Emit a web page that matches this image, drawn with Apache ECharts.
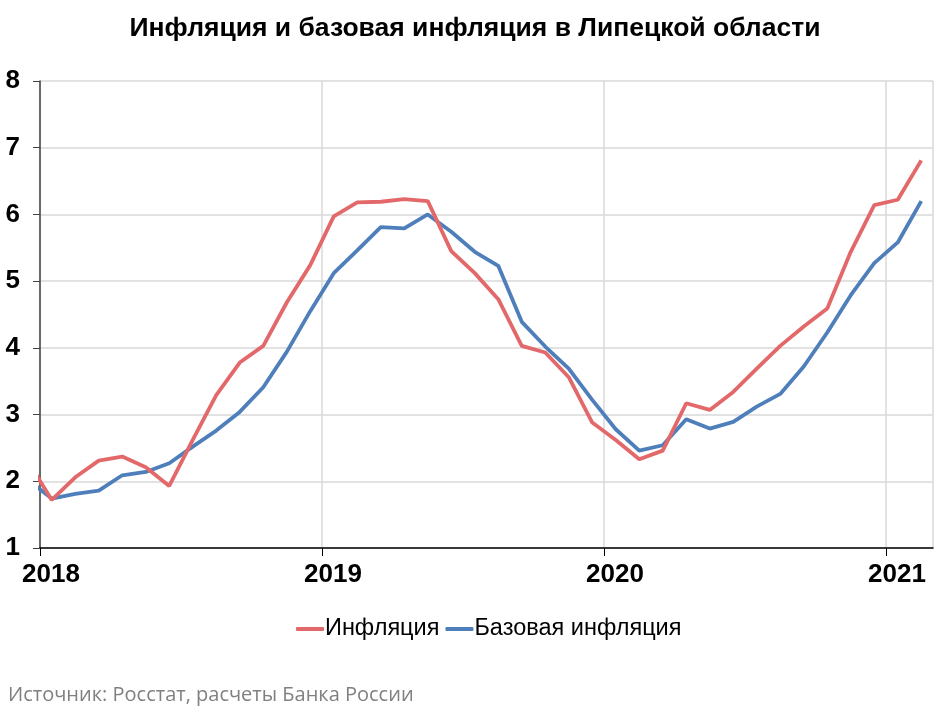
<!DOCTYPE html>
<html>
<head>
<meta charset="utf-8">
<title>Инфляция и базовая инфляция в Липецкой области</title>
<script src="https://cdn.jsdelivr.net/npm/echarts@6/dist/echarts.min.js"></script>
<style>
  html, body { margin: 0; padding: 0; background: #fff; }
  #main { width: 950px; height: 712px; }
</style>
</head>
<body>
<div id="main"></div>
<script>
// месяцы: декабрь 2017 (обрезается у оси) .. февраль 2021
var months = [
  '2017-12',
  '2018-01', '2018-02', '2018-03', '2018-04', '2018-05', '2018-06',
  '2018-07', '2018-08', '2018-09', '2018-10', '2018-11', '2018-12',
  '2019-01', '2019-02', '2019-03', '2019-04', '2019-05', '2019-06',
  '2019-07', '2019-08', '2019-09', '2019-10', '2019-11', '2019-12',
  '2020-01', '2020-02', '2020-03', '2020-04', '2020-05', '2020-06',
  '2020-07', '2020-08', '2020-09', '2020-10', '2020-11', '2020-12',
  '2021-01', '2021-02'
];

var yearLabels = ['2018', '2019', '2020', '2021'];

// Инфляция, % г/г
var inflation = [
  2.29,
  1.72, 2.06, 2.31, 2.37, 2.21, 1.93, 2.62, 3.29, 3.78, 4.03, 4.68, 5.24,
  5.97, 6.18, 6.19, 6.23, 6.20, 5.45, 5.12, 4.73, 4.03, 3.93, 3.56, 2.88,
  2.62, 2.33, 2.46, 3.17, 3.07, 3.34, 3.69, 4.03, 4.32, 4.59, 5.44, 6.14,
  6.22, 6.81
];

// Базовая инфляция, % г/г
var coreInflation = [
  2.02,
  1.74, 1.81, 1.86, 2.09, 2.14, 2.27, 2.52, 2.76, 3.04, 3.41, 3.94, 4.55,
  5.12, 5.46, 5.81, 5.79, 6.00, 5.74, 5.44, 5.23, 4.39, 4.02, 3.69, 3.22,
  2.78, 2.46, 2.54, 2.93, 2.79, 2.89, 3.12, 3.31, 3.72, 4.23, 4.79, 5.27,
  5.58, 6.20
];

// месяц -> позиция на оси (январь 2018 = 0, точка в середине месяца)
function monthPos(m) {
  var p = m.split('-');
  return (parseInt(p[0], 10) - 2018) * 12 + parseInt(p[1], 10) - 1 + 0.5;
}

function toPoints(values) {
  var pts = [];
  for (var i = 0; i < months.length; i++) {
    pts.push([monthPos(months[i]), values[i]]);
  }
  return pts;
}

var chart = echarts.init(document.getElementById('main'));

var option = {
  backgroundColor: '#ffffff',
  animation: false,
  title: {
    text: 'Инфляция и базовая инфляция в Липецкой области',
    left: 'center',
    top: 10,
    textStyle: {
      fontFamily: 'Liberation Sans',
      fontWeight: 'bold',
      fontSize: 26.5,
      color: '#000'
    }
  },
  legend: {
    bottom: 66,
    left: 291,
    itemGap: 6,
    itemWidth: 28,
    itemHeight: 4,
    icon: 'roundRect',
    textStyle: {
      fontFamily: 'Liberation Sans',
      fontSize: 23.5,
      color: '#000',
      padding: [0, 0, 0, -4]
    },
    data: ['Инфляция', 'Базовая инфляция']
  },
  grid: {
    left: 40,
    right: 17,
    top: 81,
    bottom: 164,
    containLabel: false
  },
  xAxis: {
    type: 'value',
    min: 0,
    max: 38,
    interval: 12,
    axisLine: { show: true, lineStyle: { color: '#000', width: 1.5 } },
    axisTick: { show: true, inside: false, length: 8, lineStyle: { color: '#000' } },
    splitLine: { show: true, lineStyle: { color: '#d9d9d9', width: 1.5 } },
    axisLabel: {
      margin: 14,
      fontFamily: 'Liberation Sans',
      fontWeight: 'bold',
      fontSize: 26,
      color: '#000',
      padding: [0, 0, 0, 22],
      showMaxLabel: false,
      formatter: function (v) {
        return yearLabels[v / 12] || '';
      }
    }
  },
  yAxis: {
    type: 'value',
    min: 1,
    max: 8,
    interval: 1,
    axisLine: { show: true, lineStyle: { color: '#404040', width: 1.5 } },
    axisTick: { show: true, length: 7, lineStyle: { color: '#404040' } },
    splitLine: { show: true, lineStyle: { color: '#d9d9d9', width: 1.5 } },
    axisLabel: {
      margin: 20,
      fontFamily: 'Liberation Sans',
      fontWeight: 'bold',
      fontSize: 26,
      color: '#000'
    }
  },
  series: [
    {
      name: 'Инфляция',
      type: 'line',
      data: toPoints(inflation),
      symbol: 'none',
      clip: true,
      color: '#e3686a',
      lineStyle: { width: 3.8, color: '#e3686a' },
      z: 3
    },
    {
      name: 'Базовая инфляция',
      type: 'line',
      data: toPoints(coreInflation),
      symbol: 'none',
      clip: true,
      color: '#4f7fbb',
      lineStyle: { width: 3.8, color: '#4f7fbb' },
      z: 2
    }
  ],
  graphic: [
    {
      type: 'text',
      left: 8,
      top: 685,
      style: {
        text: 'Источник: Росстат, расчеты Банка России',
        fontFamily: 'Open Sans',
        fontSize: 20,
        fill: '#808080'
      }
    }
  ]
};

chart.setOption(option);
</script>
</body>
</html>
